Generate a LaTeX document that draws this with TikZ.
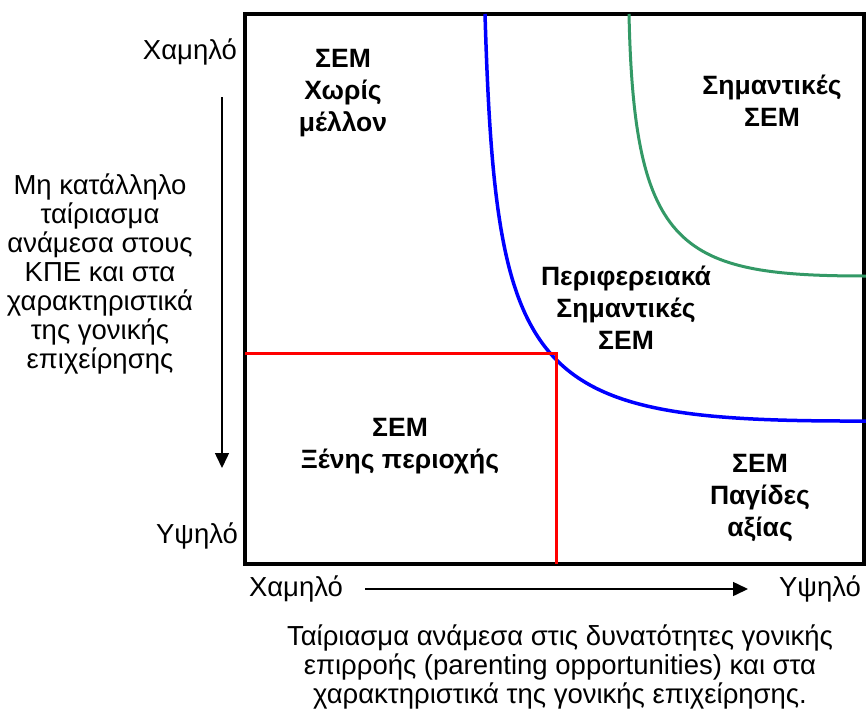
\documentclass[tikz,border=0pt]{standalone}
\usepackage{fontspec}
\setmainfont{Liberation Sans}
\usetikzlibrary{arrows.meta,positioning}

\definecolor{curveblue}{RGB}{0,0,255}
\definecolor{curvegreen}{RGB}{51,153,102}
\definecolor{linered}{RGB}{255,0,0}

\begin{document}
\begin{tikzpicture}[
    x=1pt, y=-1pt,
    >={Triangle[length=15pt,width=14pt]},
    every node/.style={font=\fontsize{27.5}{29}\selectfont, align=center, inner sep=0pt},
    axislab/.style={font=\fontsize{27.5}{29}\selectfont},
    zone/.style={font=\fontsize{26.5}{32}\selectfont\bfseries},
    frame/.style={draw, line width=4pt},
    axis/.style={->, line width=1.5pt},
    blueline/.style={draw=curveblue, line width=3.5pt},
    greenline/.style={draw=curvegreen, line width=3pt},
    redline/.style={draw=linered, line width=3pt}
]
\useasboundingbox (0,0) rectangle (866,717);

%------------------------------------------------
% Frame
%------------------------------------------------
\coordinate (tl) at (245,14);
\coordinate (br) at (864,564);
\draw[frame] (tl) rectangle (br);

%------------------------------------------------
% Curves and red lines
%------------------------------------------------
\coordinate (btop) at (485,14);
\coordinate (bend) at (866,421);
\coordinate (gtop) at (629,14);
\coordinate (gend) at (866,276);
\coordinate (corner) at (556,353);
\coordinate (rleft) at (245,353);
\coordinate (rbot) at (556,564);

\draw[blueline] (btop) .. controls (496,385) and (530,422) .. (bend);
\draw[greenline] (gtop) .. controls (634,250) and (680,276) .. (gend);

\draw[redline] (rleft) -- (corner) -- (rbot);

%------------------------------------------------
% Axes
%------------------------------------------------
\node[axislab] (ylow)  at (190,52)  {Χαμηλό};
\node[axislab] (yhigh) at (197,536) {Υψηλό};
\coordinate (ytop) at (222,97);
\coordinate (ybot) at (222,468);
\draw[axis] (ytop) -- (ybot);

\node[axislab] (xlow)  at (296,589) {Χαμηλό};
\node[axislab] (xhigh) at (820,589) {Υψηλό};
\coordinate (xleft) at (365,589);
\coordinate (xright) at (748,589);
\draw[axis] (xleft) -- (xright);

\node (ytitle) at (100,274) {Μη κατάλληλο\\ταίριασμα\\ανάμεσα στους\\ΚΠΕ και στα\\χαρακτηριστικά\\της γονικής\\επιχείρησης};

\node (xtitle) at (560,667) {Ταίριασμα ανάμεσα στις δυνατότητες γονικής\\επιρροής (parenting opportunities) και στα\\χαρακτηριστικά της γονικής επιχείρησης.};

%------------------------------------------------
% Zones
%------------------------------------------------
\node[zone] (nofuture) at (343,93)  {ΣΕΜ\\Χωρίς\\μέλλον};
\node[zone] (core)     at (772,101) {Σημαντικές\\ΣΕΜ};
\node[zone] (edge)     at (626,308) {Περιφερειακά\\Σημαντικές\\ΣΕΜ};
\node[zone] (alien)    at (400,446) {ΣΕΜ\\Ξένης περιοχής};
\node[zone] (trap)     at (760,498) {ΣΕΜ\\Παγίδες\\αξίας};

\end{tikzpicture}
\end{document}
